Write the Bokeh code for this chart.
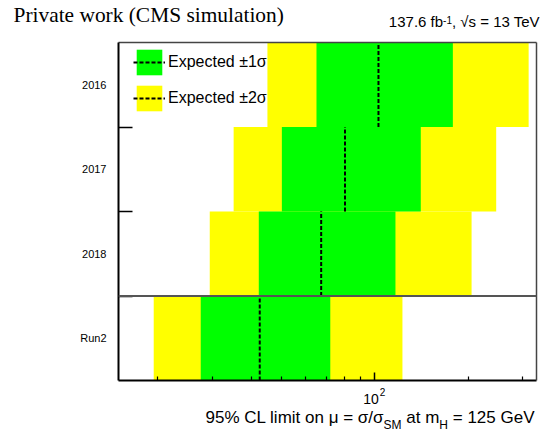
from bokeh.plotting import figure
from bokeh.layouts import column, row
from bokeh.models import (Range1d, FixedTicker, Span, Label, Legend, LegendItem,
                          CustomJSTickFormatter, ColumnDataSource, LinearAxis, LogAxis)
from bokeh.embed import file_html
from bokeh.resources import INLINE

# Expected 95% CL upper limits on the signal strength, per data-taking period
categories = ["Run2", "2018", "2017", "2016"]
exp_median = [42.6, 67.2, 80.2, 102.8]
exp_1s_lo = [27.5, 42.3, 50.2, 64.9]
exp_1s_hi = [71.9, 116.6, 140.7, 178.5]
exp_2s_lo = [19.4, 29.4, 35.1, 45.1]
exp_2s_hi = [122.8, 205.1, 246.2, 313.2]

# x-axis tick values
x_major_ticks = [100]
x_minor_ticks = [20, 30, 40, 50, 60, 70, 80, 90, 200, 300]

FONT = "Liberation Sans"
SERIF = "Liberation Serif"
W = 548
HEADER_H, MAIN_H, FOOTER_H = 32, 354, 47
LEFT, RIGHT = 118, 12

rows = [i + 0.5 for i in range(len(categories))]
src = ColumnDataSource(dict(
    y=rows,
    y0=[r - 0.5 for r in rows],
    y1=[r + 0.5 for r in rows],
    med=exp_median,
    lo1=exp_1s_lo, hi1=exp_1s_hi,
    lo2=exp_2s_lo, hi2=exp_2s_hi,
))

# Helvetica advance widths (1/1000 em) for laying out mixed-size text
HELV = {' ': 278, '%': 889, '/': 278, '=': 584, '.': 278, ',': 278, '-': 333,
        'C': 722, 'L': 556, 'G': 778, 'V': 667, 'S': 667, 'M': 833, 'H': 722, 'T': 611,
        'a': 556, 'b': 556, 'e': 556, 'f': 278, 'l': 222, 'i': 222, 'm': 833, 't': 278,
        'o': 556, 'n': 556, 's': 500, '\u221a': 549, '\u03bc': 576, '\u03c3': 600}


def text_width(s, size):
    return sum(HELV.get(ch, 556) for ch in s) / 1000.0 * size


def pieces_width(pieces, space_size):
    space = text_width(" ", space_size)
    return sum(text_width(t, s) + g * space for t, s, _, g in pieces)


def place_pieces(fig, pieces, x_start, space_size):
    """Draw (text, size, baseline, gap) pieces left to right from x_start."""
    space = text_width(" ", space_size)
    xpos = x_start
    for t, s, yy, g in pieces:
        xpos += g * space
        fig.add_layout(Label(x=xpos, y=yy, x_units="screen", y_units="screen", text=t,
                             text_font=FONT, text_font_size=f"{s}px", text_color="black"))
        xpos += text_width(t, s)


def blank_axis(axis, color="#444444", width=1.5):
    axis.ticker = FixedTicker(ticks=[])
    axis.formatter = CustomJSTickFormatter(code="return ''")
    axis.major_tick_out = 0
    axis.major_tick_in = 0
    axis.minor_tick_out = 0
    axis.minor_tick_in = 0
    axis.major_label_standoff = 0
    axis.major_label_text_font_size = "0px"
    axis.axis_line_color = color
    axis.axis_line_width = width
    return axis


# ---------------- header ----------------
header = figure(width=W, height=HEADER_H, x_range=Range1d(0, W), y_range=Range1d(0, HEADER_H),
                output_backend="svg", toolbar_location=None, min_border=0,
                min_border_left=0, min_border_right=0, min_border_top=0, min_border_bottom=0,
                x_axis_location=None, y_axis_location=None, margin=0)
header.outline_line_color = None
header.xgrid.visible = False
header.ygrid.visible = False
header.add_layout(Label(x=13, y=HEADER_H - 26, x_units="screen", y_units="screen",
                        text="Private work (CMS simulation)", text_font=SERIF,
                        text_font_size="21.4px", text_color="black"))

lumi = [("137.6 fb", 15, 2.5, 0),
        ("-1", 10, 8.5, 0),
        (", \u221as = 13 TeV", 15, 2.5, 0)]
place_pieces(header, lumi, 541 - pieces_width(lumi, 15), 15)

# ---------------- main plot ----------------
p = figure(width=W, height=MAIN_H, x_axis_type="log",
           x_range=Range1d(14.94, 332.0), y_range=Range1d(0, len(categories)),
           output_backend="svg", toolbar_location=None, margin=0,
           min_border_left=LEFT, min_border_right=RIGHT,
           min_border_top=10, min_border_bottom=6)
p.background_fill_color = "white"
p.border_fill_color = "white"
p.xgrid.visible = False
p.ygrid.visible = False
p.outline_line_color = None

yellow_r = p.hbar(y="y", left="lo2", right="hi2", height=1.0, source=src,
                  fill_color="#ffff00", line_color=None)
green_r = p.hbar(y="y", left="lo1", right="hi1", height=1.0, source=src,
                 fill_color="#00ff00", line_color=None)
med_r = p.segment(x0="med", x1="med", y0="y0", y1="y1", source=src,
                  line_color="black", line_width=2, line_dash="4 2")

# separator between the per-year results and the combination
p.add_layout(Span(location=1, dimension="width", line_color="#555555", line_width=2))

# bottom x axis: inward ticks, labels drawn in the footer
xa = p.xaxis[0]
xa.ticker = FixedTicker(ticks=x_major_ticks, minor_ticks=x_minor_ticks)
xa.formatter = CustomJSTickFormatter(code="return ''")
xa.major_label_standoff = 0
xa.major_label_text_font_size = "0px"
xa.major_tick_in = 8
xa.major_tick_out = 0
xa.minor_tick_in = 4
xa.minor_tick_out = 0
xa.major_tick_line_color = "black"
xa.minor_tick_line_color = "black"
xa.major_tick_line_width = 1.5
xa.minor_tick_line_width = 1.2
xa.axis_line_color = "black"
xa.axis_line_width = 2

# left y axis: labels at row centres, tick marks at the row boundaries
ya = p.yaxis[0]
ya.ticker = FixedTicker(ticks=rows, minor_ticks=[1, 2, 3])
ya.major_label_overrides = {r: c for r, c in zip(rows, categories)}
ya.major_tick_line_color = None
ya.minor_tick_in = 14
ya.minor_tick_out = 0
ya.minor_tick_line_color = "black"
ya.minor_tick_line_width = 1.5
ya.axis_line_color = "black"
ya.axis_line_width = 2
ya.major_label_standoff = 6
ya.major_label_text_font = FONT
ya.major_label_text_font_size = "11px"
ya.major_label_text_color = "black"

# frame on the top and right
p.add_layout(blank_axis(LogAxis()), "above")
p.add_layout(blank_axis(LinearAxis()), "right")

# legend
legend = Legend(items=[
    LegendItem(label="Expected \u00b11\u03c3", renderers=[green_r, med_r]),
    LegendItem(label="Expected \u00b12\u03c3", renderers=[yellow_r, med_r]),
], location=(15, 266))
legend.glyph_width = 32
legend.glyph_height = 32
legend.spacing = 4
legend.padding = 0
legend.margin = 0
legend.label_standoff = 3
legend.label_text_font = FONT
legend.label_text_font_size = "16px"
legend.label_text_color = "black"
legend.border_line_color = None
legend.background_fill_alpha = 0
p.add_layout(legend)

# ---------------- footer: tick label and axis title ----------------
footer = figure(width=W, height=FOOTER_H, x_axis_type="log", x_range=p.x_range,
                y_range=Range1d(0, FOOTER_H), output_backend="svg", toolbar_location=None,
                min_border_left=LEFT, min_border_right=RIGHT, min_border_top=0,
                min_border_bottom=0, x_axis_location=None, y_axis_location=None, margin=0)
footer.outline_line_color = None
footer.xgrid.visible = False
footer.ygrid.visible = False

footer.add_layout(Label(x=x_major_ticks[0], y=30, x_units="data", y_units="screen", text="10",
                        text_align="right", x_offset=4, text_font=FONT,
                        text_font_size="14px", text_color="black"))
footer.add_layout(Label(x=x_major_ticks[0], y=38, x_units="data", y_units="screen", text="2",
                        text_align="left", x_offset=5, text_font=FONT,
                        text_font_size="10px", text_color="black"))

# axis title with subscripts: (text, font size, baseline, gap in spaces), right aligned
xtitle = [("95% CL limit on \u03bc = \u03c3/\u03c3", 17, 7, 0),
          ("SM", 12, 2, 0),
          ("at m", 17, 7, 1),
          ("H", 12, 2, 0),
          ("= 125 GeV", 17, 7, 1)]
place_pieces(footer, xtitle, 416 - pieces_width(xtitle, 17), 17)

layout = column(row(header, margin=0), column(p, footer, spacing=0, margin=0),
                spacing=0, margin=0)
open("out.html", "w").write(file_html(layout, INLINE))
